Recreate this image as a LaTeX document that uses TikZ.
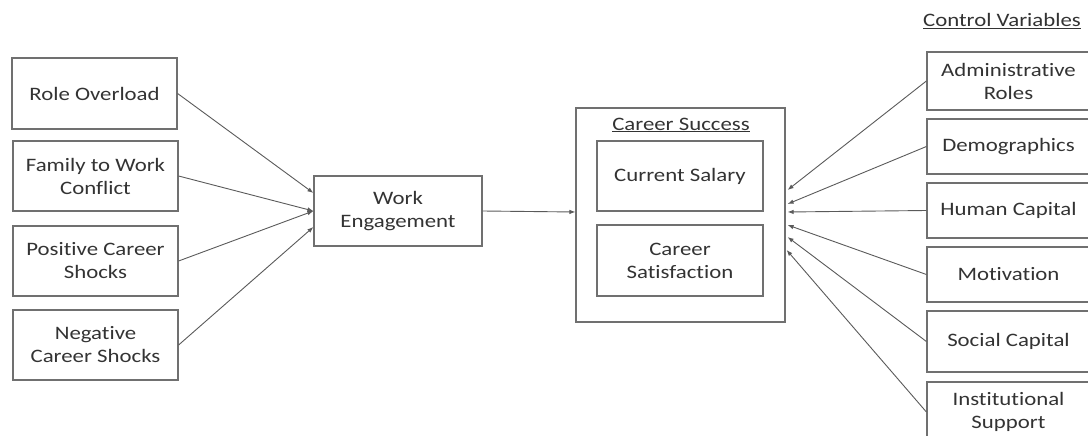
\documentclass[tikz,border=0pt]{standalone}
\usepackage{fontspec}
\setmainfont{Carlito}[FakeStretch=1.2,Ligatures=NoCommon]
\usetikzlibrary{arrows.meta,calc}
\definecolor{ink}{HTML}{333333}
\definecolor{frame}{HTML}{707070}
\definecolor{wire}{HTML}{5A5A5A}
\begin{document}
\begin{tikzpicture}[x=1pt,y=-1pt,
  box/.style={draw=frame,line width=1.2pt,rectangle,inner sep=0pt,align=center,
    text=ink,font=\fontsize{19}{23}\selectfont},
  link/.style={draw=wire,line width=0.9pt,-{Latex[length=6pt,width=4.5pt]}},
  heading/.style={text=ink,font=\fontsize{19}{23}\selectfont,inner sep=0pt}]
\useasboundingbox (0,0) rectangle (1088,436);
\clip (0,0) rectangle (1088,436);

% predictors
\node[box,minimum width=165pt,minimum height=71pt] (ro) at (94.5,93.5) {Role Overload};
\node[box,minimum width=165pt,minimum height=70pt] (fw) at (95.5,176) {Family to Work\\Conflict};
\node[box,minimum width=165pt,minimum height=70pt] (pc) at (95.5,261) {Positive Career\\Shocks};
\node[box,minimum width=165pt,minimum height=70pt] (nc) at (95.5,345) {Negative\\Career Shocks};

% mediator
\node[box,minimum width=168pt,minimum height=70pt] (we) at (398,211) {Work\\Engagement};

% outcome block
\node[box,minimum width=209pt,minimum height=214pt] (cs) at (680.5,215) {};
\node[heading] (cst) at (681,125) {\underline{Career Success}};
\node[box,minimum width=166pt,minimum height=70pt] (sal) at (680,176) {Current Salary};
\node[box,minimum width=166pt,minimum height=71pt] (sat) at (680,260.5) {Career\\Satisfaction};

% control variables
\node[heading] (cv) at (1002,21) {\underline{Control Variables}};
\node[box,minimum width=163pt,minimum height=58pt] (adm) at (1008.5,81) {Administrative\\Roles};
\node[box,minimum width=163pt,minimum height=55pt] (dem) at (1008.5,146.5) {Demographics};
\node[box,minimum width=163pt,minimum height=55pt] (hum) at (1008.5,210.5) {Human Capital};
\node[box,minimum width=163pt,minimum height=55pt] (mot) at (1008.5,274.5) {Motivation};
\node[box,minimum width=163pt,minimum height=61pt] (soc) at (1008.5,341.5) {Social Capital};
\node[box,minimum width=163pt,minimum height=60pt] (ins) at (1008.5,412) {Institutional\\Support};

% paths into work engagement
\draw[link] (ro.east) -- ($(we.west)+(0,-18)$);
\draw[link] (fw.east) -- (we.west);
\draw[link] (pc.east) -- (we.west);
\draw[link] (nc.east) -- ($(we.west)+(0,16)$);

% work engagement to career success
\draw[link] (we.east) -- ($(cs.west)+(0,-3)$);

% controls into career success
\draw[link] (adm.west) -- ($(cs.east)+(2,-25)$);
\draw[link] (dem.west) -- ($(cs.east)+(2,-11)$);
\draw[link] (hum.west) -- ($(cs.east)+(2,-3)$);
\draw[link] (mot.west) -- ($(cs.east)+(2,10)$);
\draw[link] (soc.west) -- ($(cs.east)+(2,22)$);
\draw[link] (ins.west) -- ($(cs.east)+(1,35)$);
\end{tikzpicture}
\end{document}
